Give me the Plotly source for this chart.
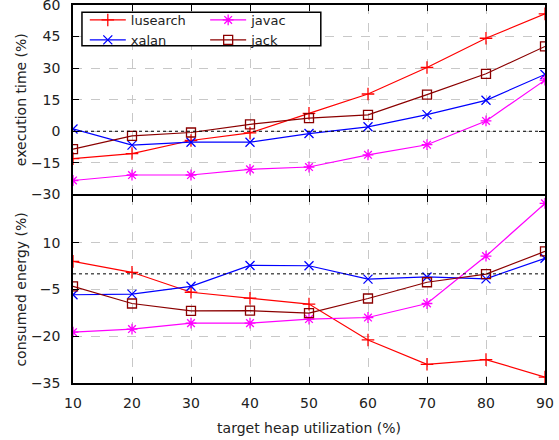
import plotly.graph_objects as go
from plotly.subplots import make_subplots

heap_util = [10, 20, 30, 40, 50, 60, 70, 80, 90]

exec_lusearch = [-13.0, -10.6, -4.4, -0.8, 8.5, 17.7, 30.3, 44.2, 55.8]
exec_xalan = [1.1, -6.6, -5.2, -5.2, -1.1, 2.1, 7.9, 14.7, 27.0]
exec_javac = [-23.4, -20.8, -20.8, -18.1, -17.0, -11.2, -6.4, 4.9, 24.3]
exec_jack = [-8.5, -2.2, -0.6, 3.3, 6.2, 7.8, 17.4, 27.3, 40.3]

energy_lusearch = [4.0, 0.5, -5.9, -7.8, -9.7, -21.2, -29.0, -27.5, -33.1]
energy_xalan = [-6.7, -6.5, -4.0, 2.7, 2.6, -1.7, -1.0, -1.6, 5.0]
energy_javac = [-18.7, -17.7, -15.8, -15.8, -14.5, -14.0, -9.5, 5.7, 22.6]
energy_jack = [-4.0, -9.5, -11.9, -11.8, -12.6, -7.9, -2.7, -0.1, 7.2]

series = [
    ("lusearch", exec_lusearch, energy_lusearch, "#ff0000", "cross-thin-open", "legend"),
    ("xalan", exec_xalan, energy_xalan, "#0000ff", "x-thin-open", "legend"),
    ("javac", exec_javac, energy_javac, "#ff00ff", "asterisk-open", "legend2"),
    ("jack", exec_jack, energy_jack, "#8b0000", "square-open", "legend2"),
]

fig = make_subplots(rows=2, cols=1, shared_xaxes=True, vertical_spacing=0)

for name, ex, en, color, sym, leg in series:
    fig.add_trace(go.Scatter(
        x=heap_util, y=ex, name=name, mode="lines+markers",
        line=dict(color=color, width=1.2),
        marker=dict(symbol=sym, size=9, color=color, line=dict(color=color, width=1.3)),
        legend=leg,
    ), row=1, col=1)
    fig.add_trace(go.Scatter(
        x=heap_util, y=en, name=name, mode="lines+markers", showlegend=False,
        line=dict(color=color, width=1.2),
        marker=dict(symbol=sym, size=9, color=color, line=dict(color=color, width=1.3)),
    ), row=2, col=1)

font_color = "#222222"
axis_common = dict(
    showline=True, linecolor="black", linewidth=1.5, mirror="ticks",
    ticks="inside", ticklen=6, tickcolor="black", tickwidth=1,
    showgrid=True, gridcolor="#c8c8c8", griddash="dash", gridwidth=1,
    zeroline=False, tickfont=dict(size=14, color=font_color),
    ticklabeloverflow="allow",
)

fig.update_xaxes(range=[10, 90], tickvals=heap_util, **axis_common)
fig.update_xaxes(showticklabels=False, row=1, col=1)
fig.update_xaxes(
    title=dict(text="target heap utilization (%)", font=dict(size=14, color=font_color), standoff=14),
    ticklabelstandoff=6, row=2, col=1)

fig.update_yaxes(range=[-30, 60], tickvals=[-30, -15, 0, 15, 30, 45, 60],
                 title=dict(text="execution time (%)", font=dict(size=14, color=font_color), standoff=1),
                 ticklabelstandoff=8, row=1, col=1, **axis_common)
fig.update_yaxes(range=[-35, 25], tickvals=[-35, -20, -5, 10],
                 title=dict(text="consumed energy (%)", font=dict(size=14, color=font_color), standoff=1),
                 ticklabelstandoff=8, row=2, col=1, **axis_common)

fig.update_layout(
    xaxis=dict(domain=[0, 1]), xaxis2=dict(domain=[0, 1]),
    yaxis=dict(domain=[0.499, 1.0]), yaxis2=dict(domain=[0.0, 0.495]),
)

fig.add_hline(y=0, line=dict(color="black", width=1, dash="dot"), row=1, col=1)
fig.add_hline(y=0, line=dict(color="black", width=1, dash="dot"), row=2, col=1)

# legend frame
fig.add_shape(type="rect", xref="paper", yref="paper", x0=0.019, x1=0.525, y0=0.892, y1=0.981,
              fillcolor="white", line=dict(color="black", width=1.5), layer="above")

legend_common = dict(
    orientation="v", yanchor="top", xanchor="left", y=1.0,
    bgcolor="rgba(0,0,0,0)", borderwidth=0,
    font=dict(size=13, color=font_color), tracegroupgap=0, itemwidth=36,
)

fig.update_layout(
    width=559, height=440,
    margin=dict(l=73, r=14, t=5, b=57, autoexpand=False),
    paper_bgcolor="white", plot_bgcolor="white",
    font=dict(family="DejaVu Sans", size=14, color=font_color),
    legend=dict(x=0.025, **legend_common),
    legend2=dict(x=0.28, **legend_common),
)

fig.write_html("out.html", config={"displayModeBar": False},
               post_script="document.body.style.margin='0';document.body.style.overflow='hidden';")
